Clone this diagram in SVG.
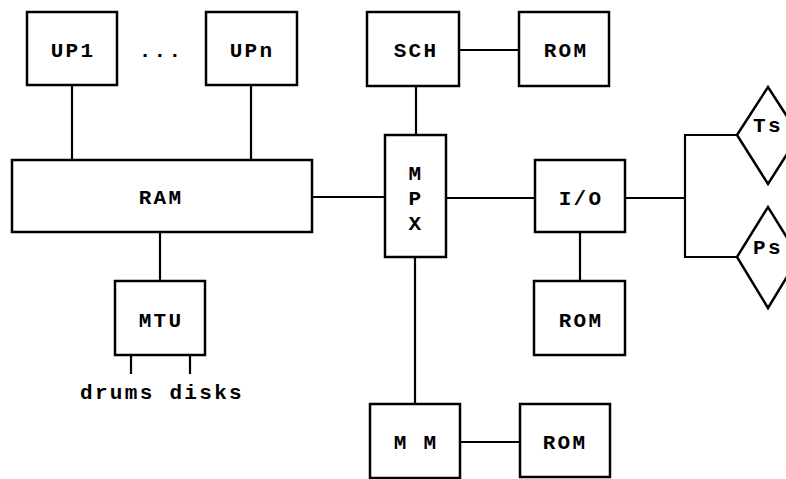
<svg xmlns="http://www.w3.org/2000/svg" width="786" height="479" viewBox="0 0 786 479">
<style>
.box{fill:#fff;stroke:#000;stroke-width:2.5}
.ln{fill:none;stroke:#000;stroke-width:2.2}
text{font-family:"Liberation Mono","DejaVu Sans Mono",monospace;font-weight:bold;font-size:21px;fill:#000;text-anchor:middle;letter-spacing:2.3px}
</style>
<rect width="786" height="479" fill="#fff"/>
<g id="connectors">
<line class="ln" x1="72" y1="85" x2="72" y2="160"/>
<line class="ln" x1="251" y1="85" x2="251" y2="160"/>
<line class="ln" x1="312" y1="197" x2="385" y2="197"/>
<line class="ln" x1="160" y1="232" x2="160" y2="281"/>
<line class="ln" x1="131" y1="355" x2="131" y2="374"/>
<line class="ln" x1="190" y1="355" x2="190" y2="374"/>
<line class="ln" x1="459" y1="50" x2="519" y2="50"/>
<line class="ln" x1="416" y1="86" x2="416" y2="135"/>
<line class="ln" x1="446" y1="198" x2="535" y2="198"/>
<line class="ln" x1="415" y1="257" x2="415" y2="404"/>
<line class="ln" x1="460" y1="442" x2="520" y2="442"/>
<line class="ln" x1="580" y1="232" x2="580" y2="281"/>
<line class="ln" x1="625" y1="198" x2="685" y2="198"/>
<polyline class="ln" points="737,135 685,135 685,257 737,257"/>
</g>
<g id="UP1"><rect class="box" x="27" y="12" width="90" height="73"/><text x="73" y="57">UP1</text></g>
<g id="dots"><text x="161" y="57">...</text></g>
<g id="UPn"><rect class="box" x="206" y="12" width="91" height="73"/><text x="252" y="57">UPn</text></g>
<g id="RAM"><rect class="box" x="12" y="160" width="300" height="72"/><text x="161" y="204">RAM</text></g>
<g id="MTU"><rect class="box" x="115" y="281" width="90" height="74"/><text x="161" y="327">MTU</text></g>
<g id="storage"><text x="162" y="399">drums disks</text></g>
<g id="SCH"><rect class="box" x="367" y="12" width="92" height="74"/><text x="416" y="57">SCH</text></g>
<g id="ROM1"><rect class="box" x="519" y="12" width="90" height="74"/><text x="566" y="57">ROM</text></g>
<g id="MPX"><rect class="box" x="385" y="135" width="61" height="122"/><text x="416" y="180">M</text><text x="416" y="205">P</text><text x="416" y="230">X</text></g>
<g id="IO"><rect class="box" x="535" y="160" width="90" height="72"/><text x="581" y="205">I/O</text></g>
<g id="ROM2"><rect class="box" x="534" y="281" width="91" height="74"/><text x="581" y="327">ROM</text></g>
<g id="MM"><rect class="box" x="370" y="404" width="90" height="74"/><text x="416" y="449">M M</text></g>
<g id="ROM3"><rect class="box" x="520" y="404" width="90" height="73"/><text x="565" y="449">ROM</text></g>
<g id="Ts"><polygon class="box" points="737,135 768,87 799,135 768,184"/><text x="768" y="132">Ts</text></g>
<g id="Ps"><polygon class="box" points="737,257 768,207 799,257 768,308"/><text x="768" y="254">Ps</text></g>
</svg>
